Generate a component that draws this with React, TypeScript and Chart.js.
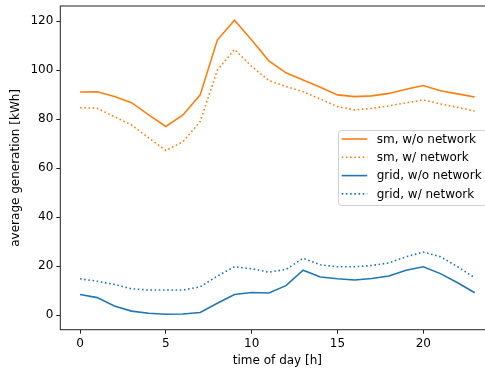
import React, { useEffect, useRef } from "react";
import { Chart, registerables } from "chart.js";

Chart.register(...registerables);

const hours = [0, 1, 2, 3, 4, 5, 6, 7, 8, 9, 10, 11, 12, 13, 14, 15, 16, 17, 18, 19, 20, 21, 22, 23];
const smNoNet = [91.1, 91.2, 89.2, 86.7, 81.7, 77.0, 81.7, 89.9, 112.3, 120.4, 112.3, 103.8, 98.9, 96.0, 93.0, 89.9, 89.2, 89.5, 90.5, 92.2, 93.7, 91.6, 90.3, 89.0];
const smNet = [84.7, 84.4, 81.0, 77.6, 72.3, 67.2, 70.8, 79.0, 100.0, 108.5, 101.5, 95.8, 93.3, 91.2, 88.2, 85.1, 83.8, 84.4, 85.4, 86.7, 87.8, 86.2, 84.8, 83.3];
const gridNoNet = [8.4, 7.1, 3.7, 1.6, 0.7, 0.3, 0.4, 1.0, 4.8, 8.4, 9.2, 9.0, 12.0, 18.3, 15.5, 14.8, 14.3, 14.9, 15.9, 18.3, 19.7, 16.9, 13.2, 9.1];
const gridNet = [14.8, 13.8, 12.5, 10.7, 10.2, 10.2, 10.2, 11.5, 15.9, 19.7, 18.9, 17.5, 18.6, 23.2, 20.5, 19.7, 19.7, 20.2, 21.3, 23.8, 25.7, 23.8, 19.7, 15.2];
const seriesLabels = ["sm, w/o network", "sm, w/ network", "grid, w/o network", "grid, w/ network"];
const xTicks = [0, 5, 10, 15, 20];
const yTicks = [0, 20, 40, 60, 80, 100, 120];

const ORANGE = "#ff7f0e";
const BLUE = "#1f77b4";
const FONT = "'DejaVu Sans', sans-serif";
const DOT = [1.6, 2.6];

const framePlugin = {
  id: "frame",
  afterDraw(chart: any) {
    const { ctx, chartArea } = chart;
    const { left, right, top, bottom } = chartArea;
    ctx.save();
    ctx.fillStyle = "#fff";
    ctx.fillRect(481, top + 3, 20, 120);
    ctx.fillRect(481, 208, 20, bottom - 211);
    ctx.strokeStyle = "#222";
    ctx.lineWidth = 1;
    ctx.strokeRect(left, top, right - left, bottom - top);

    // legend
    const lx = 338.5, ly = 130.5, lw = 149, lh = 75, r = 3;
    ctx.beginPath();
    ctx.moveTo(lx + r, ly);
    ctx.lineTo(lx + lw - r, ly);
    ctx.arcTo(lx + lw, ly, lx + lw, ly + r, r);
    ctx.lineTo(lx + lw, ly + lh - r);
    ctx.arcTo(lx + lw, ly + lh, lx + lw - r, ly + lh, r);
    ctx.lineTo(lx + r, ly + lh);
    ctx.arcTo(lx, ly + lh, lx, ly + lh - r, r);
    ctx.lineTo(lx, ly + r);
    ctx.arcTo(lx, ly, lx + r, ly, r);
    ctx.closePath();
    ctx.fillStyle = "rgba(255,255,255,0.8)";
    ctx.fill();
    ctx.strokeStyle = "#d0d0d0";
    ctx.stroke();

    chart.data.datasets.forEach((ds: any, i: number) => {
      const y = 139 + i * 18.3;
      ctx.beginPath();
      ctx.setLineDash(ds.borderDash || []);
      ctx.strokeStyle = ds.borderColor;
      ctx.lineWidth = ds.borderWidth;
      ctx.moveTo(341.7, y);
      ctx.lineTo(367.3, y);
      ctx.stroke();
      ctx.setLineDash([]);
      ctx.fillStyle = "#000";
      ctx.font = `12px ${FONT}`;
      ctx.textBaseline = "middle";
      ctx.textAlign = "left";
      ctx.fillText(ds.label, 376.7, y + 0.5);
    });
    ctx.restore();
  },
};

export default function App() {
  const ref = useRef<HTMLCanvasElement | null>(null);
  useEffect(() => {
    if (!ref.current) return;
    const mk = (vals: number[]) => hours.map((h, i) => ({ x: h, y: vals[i] }));
    const chart = new Chart(ref.current, {
      type: "line",
      data: {
        datasets: [
          { label: seriesLabels[0], data: mk(smNoNet), borderColor: ORANGE, borderWidth: 1.6, pointRadius: 0, tension: 0 },
          { label: seriesLabels[1], data: mk(smNet), borderColor: ORANGE, borderWidth: 1.6, borderDash: DOT, pointRadius: 0, tension: 0 },
          { label: seriesLabels[2], data: mk(gridNoNet), borderColor: BLUE, borderWidth: 1.6, pointRadius: 0, tension: 0 },
          { label: seriesLabels[3], data: mk(gridNet), borderColor: BLUE, borderWidth: 1.6, borderDash: DOT, pointRadius: 0, tension: 0 },
        ],
      },
      options: {
        responsive: false,
        animation: false,
        devicePixelRatio: 1,
        layout: { padding: { top: 6, right: 5.5, left: 0, bottom: 0 } },
        plugins: { legend: { display: false }, tooltip: { enabled: false } },
        scales: {
          x: {
            type: "linear",
            min: -1.15,
            max: 24.15,
            afterBuildTicks: (s: any) => { s.ticks = xTicks.map((v) => ({ value: v })); },
            afterFit: (s: any) => { s.height = 39.3; s.paddingLeft = 0; s.paddingRight = 0; s.paddingTop = 0; s.paddingBottom = 0; },
            grid: { drawOnChartArea: false, drawTicks: true, tickLength: 4, color: "#222", lineWidth: 1 },
            border: { display: false },
            ticks: { color: "#000", font: { family: FONT, size: 12 }, padding: 3, maxRotation: 0 },
            title: { display: true, text: "time of day [h]", color: "#000", font: { family: FONT, size: 12 }, padding: { top: 0, bottom: 1 } },
          },
          y: {
            type: "linear",
            min: -6,
            max: 126.2,
            afterBuildTicks: (s: any) => { s.ticks = yTicks.map((v) => ({ value: v })); },
            afterFit: (s: any) => { s.width = 60.3; s.paddingLeft = 0; s.paddingRight = 0; s.paddingTop = 0; s.paddingBottom = 0; },
            grid: { drawOnChartArea: false, drawTicks: true, tickLength: 4, color: "#222", lineWidth: 1 },
            border: { display: false },
            ticks: { color: "#000", font: { family: FONT, size: 12 }, padding: 3 },
            title: { display: true, text: "average generation [kWh]", color: "#000", font: { family: FONT, size: 12 }, padding: { top: 9, bottom: 0 } },
          },
        },
      },
      plugins: [framePlugin],
    } as any);
    return () => chart.destroy();
  }, []);
  return (
    <div style={{ position: "fixed", left: 0, top: 0, width: 485, height: 369, overflow: "hidden", background: "#fff" }}>
      <canvas ref={ref} width={500} height={369} style={{ display: "block", width: 500, height: 369 }} />
    </div>
  );
}
